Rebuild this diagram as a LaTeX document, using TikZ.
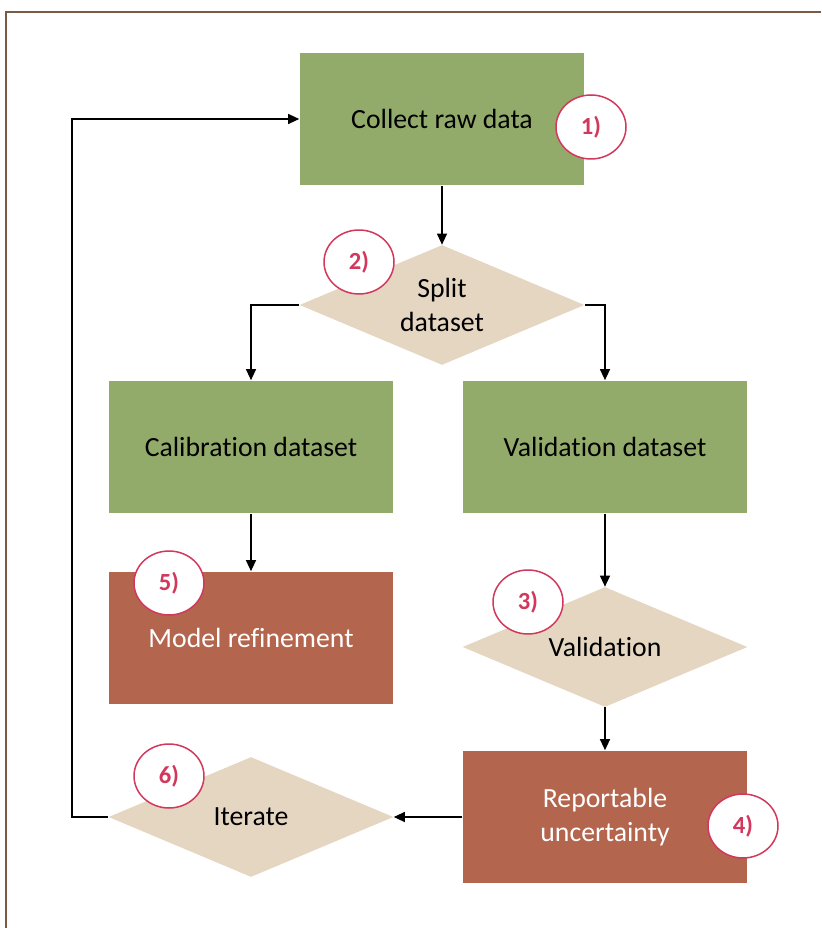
\documentclass[tikz,border=0pt]{standalone}
\usepackage{fontspec}
\setmainfont{Carlito}[Ligatures=NoCommon]
\usetikzlibrary{shapes.geometric,arrows.meta}
\definecolor{boxgreen}{HTML}{93AB6A}
\definecolor{boxsand}{HTML}{E5D6C2}
\definecolor{boxrust}{HTML}{B4654E}
\definecolor{markred}{HTML}{D2375C}
\definecolor{framebrown}{HTML}{7A5A42}
\tikzset{
  box/.style={rectangle,fill=boxgreen,minimum width=5.7cm,minimum height=2.66cm,align=center,
    font=\fontsize{15.8}{19}\selectfont},
  redbox/.style={box,fill=boxrust,text=white},
  decision/.style={diamond,fill=boxsand,aspect=2.375,minimum width=5.7cm,minimum height=2.4cm,
    inner sep=0pt,align=center,font=\fontsize{15.8}{19}\selectfont},
  num/.style={ellipse,draw=markred,line width=0.03cm,fill=white,text=markred,
    minimum width=1.4cm,minimum height=1.28cm,inner sep=0pt,font=\bfseries\fontsize{14}{16}\selectfont},
  flow/.style={line width=0.025cm,-{Triangle[length=0.22cm,width=0.2cm]}}
}
\begin{document}
\begin{tikzpicture}[x=0.02cm,y=-0.02cm]
\useasboundingbox (0,0) rectangle (821,928);
\draw[framebrown,line width=0.04cm] (6,928) -- (6,12) -- (821,12);
% boxes
\node[box] (collect) at (442,119) {Collect raw data};
\node[decision] (split) at (442,305) {Split\\dataset};
\node[box] (calib) at (251,447) {Calibration dataset};
\node[box] (valid) at (605,447) {Validation dataset};
\node[redbox] (refine) at (251,638) {Model refinement};
\node[decision] (check) at (605,647) {Validation};
\node[redbox] (report) at (605,817) {Reportable\\uncertainty};
\node[decision] (iter) at (251,817) {Iterate};
\coordinate (loop) at (72,119);
% connectors
\draw[flow] (collect) -- (split);
\draw[flow] (split.west) -| (calib);
\draw[flow] (split.east) -| (valid);
\draw[flow] (calib) -- (refine);
\draw[flow] (valid) -- (check);
\draw[flow] (check) -- (report);
\draw[flow] (report.west) -- (iter.east);
\draw[flow] (iter.west) -| (loop) -- (collect.west);
% step markers
\node[num] (n1) at (591,127) {1)};
\node[num] (n2) at (359,262) {2)};
\node[num] (n3) at (528,602) {3)};
\node[num] (n4) at (743,826) {4)};
\node[num] (n5) at (169,583) {5)};
\node[num] (n6) at (169,776) {6)};
\end{tikzpicture}
\end{document}
